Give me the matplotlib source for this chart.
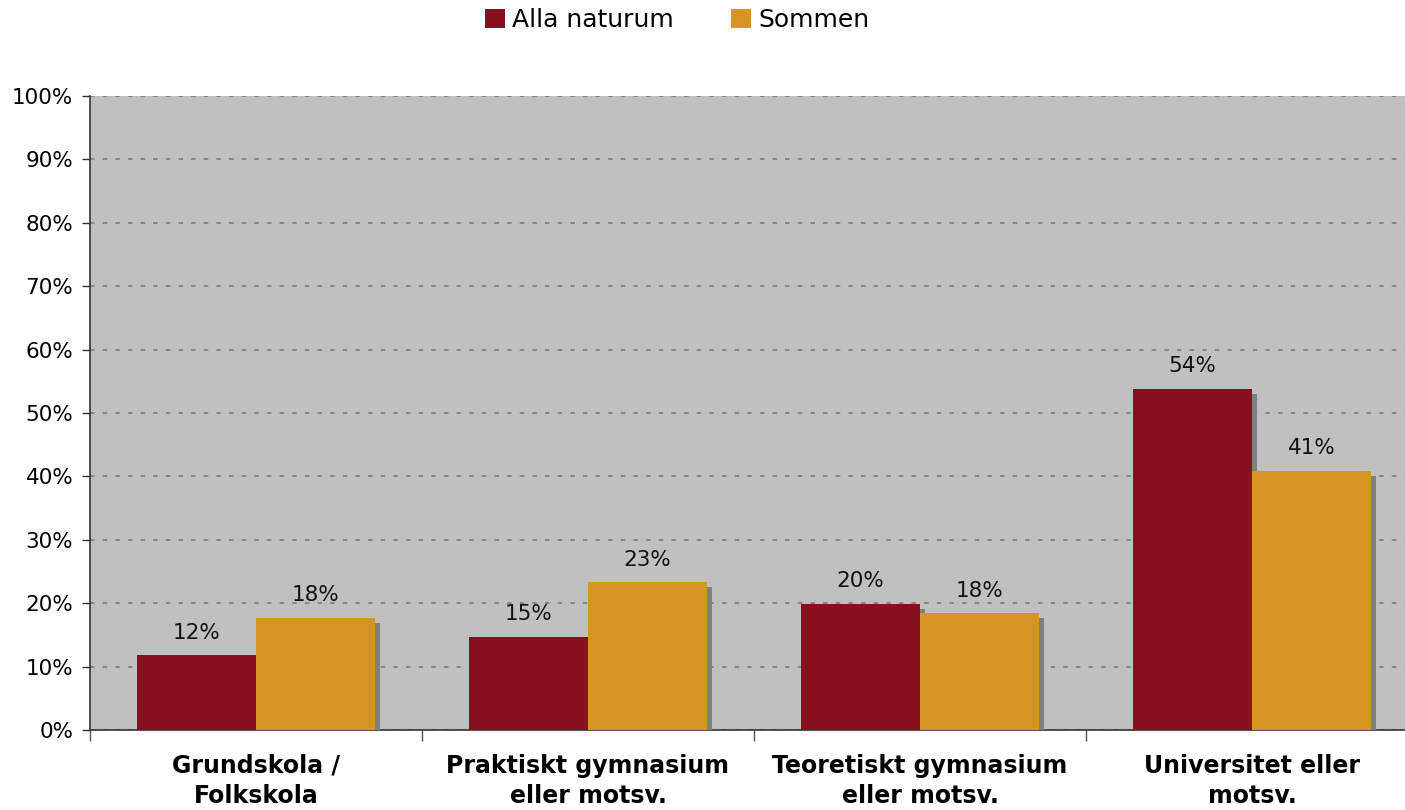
import matplotlib
matplotlib.use('Agg')
import matplotlib.pyplot as plt
import matplotlib.patheffects as pe
from matplotlib.patches import Patch
import numpy as np

# data
categories = ["Grundskola /\nFolkskola", "Praktiskt gymnasium\neller motsv.",
              "Teoretiskt gymnasium\neller motsv.", "Universitet eller\nmotsv."]
alla_naturum = [11.8, 14.7, 19.9, 53.8]
sommen = [17.7, 23.3, 18.4, 40.9]
series_names = ["Alla naturum", "Sommen"]
yticks = [0, 10, 20, 30, 40, 50, 60, 70, 80, 90, 100]

RED = '#870F1E'
GOLD = '#D69522'
SHADOW = '#808080'

plt.rcParams['font.family'] = ['DejaVu Sans']

fig = plt.figure(figsize=(14.05, 8.10), dpi=100)
# plot area runs off the right edge, like the reference
ax = fig.add_axes([90 / 1405, 80 / 810, 1328 / 1405, 634 / 810])
ax.set_facecolor('#C0C0C0')

x = np.arange(len(categories))
w = 0.358
shadow = [pe.SimplePatchShadow(offset=(3.6, -3.6), shadow_rgbFace=SHADOW, alpha=1.0),
          pe.Normal()]

b1 = ax.bar(x - w / 2, alla_naturum, w, color=RED, zorder=3)
b2 = ax.bar(x + w / 2, sommen, w, color=GOLD, zorder=4)
for bars in (b1, b2):
    for p in bars:
        p.set_path_effects(shadow)

for bars, vals in ((b1, alla_naturum), (b2, sommen)):
    for p, v in zip(bars, vals):
        ax.annotate(f"{v:.0f}%", (p.get_x() + p.get_width() / 2, v),
                    xytext=(0, 9), textcoords='offset points',
                    ha='center', va='bottom', fontsize=15.5, color='#111111', zorder=6)

ax.set_xlim(-0.5, len(categories) - 0.5)
ax.set_ylim(0, 100)
ax.set_yticks(yticks)
ax.set_yticklabels([f"{t}%" for t in yticks], fontsize=15.5)
ax.yaxis.grid(True, linestyle=(0, (2.5, 4.5)), color='#808080', linewidth=1.3, zorder=1)
ax.set_axisbelow(True)

# category labels centred, ticks on the boundaries
ax.set_xticks(x)
ax.set_xticklabels(categories, fontsize=17, fontweight='bold', linespacing=1.32)
ax.tick_params(axis='x', length=0, pad=17)
ax.set_xticks(np.arange(len(categories) + 1) - 0.5, minor=True)
ax.tick_params(axis='x', which='minor', length=8, width=1, color='#555555')
ax.tick_params(axis='y', length=6, width=1, color='#333333', pad=6)

for s in ('top', 'right'):
    ax.spines[s].set_visible(False)
ax.spines['left'].set_color('#333333')
ax.spines['bottom'].set_color('#333333')
ax.spines['left'].set_linewidth(1.2)
ax.spines['bottom'].set_linewidth(1.2)

handles = [Patch(facecolor=RED), Patch(facecolor=GOLD)]
fig.legend(handles=handles, labels=series_names, loc='upper center',
           bbox_to_anchor=(0.482, 1.018), ncol=2, frameon=False, fontsize=18,
           handlelength=0.8, handleheight=0.8, handletextpad=0.3, columnspacing=2.3)

fig.savefig('out.png', dpi=100)
